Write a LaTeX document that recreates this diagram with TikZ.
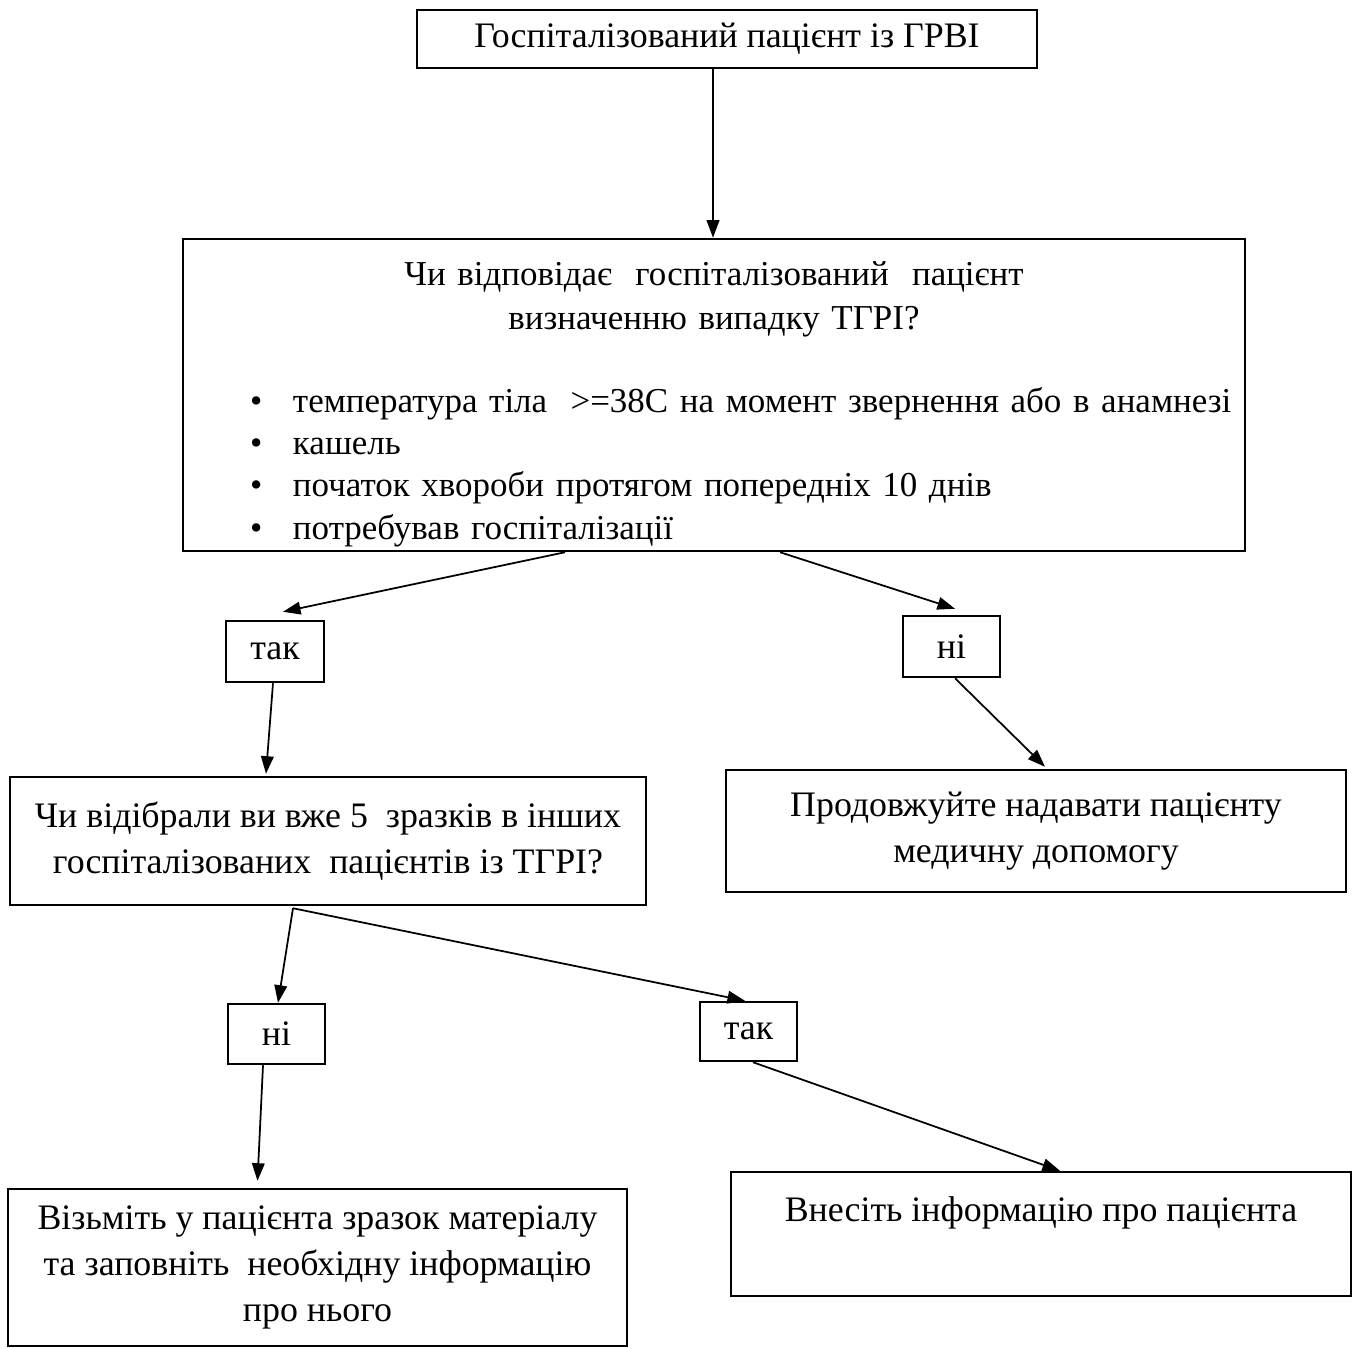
\documentclass[tikz,border=0pt]{standalone}
\usepackage{fontspec}
\setmainfont{Liberation Serif}
\usetikzlibrary{arrows.meta}
\newcommand{\bul}{\makebox[1.1cm][l]{\hspace{0.67cm}•}}

\begin{document}
\begin{tikzpicture}[
    box/.style={draw=black, line width=0.7pt, inner sep=0pt, align=center,
                font=\fontsize{10.2}{13}\selectfont},
    arr/.style={black, line width=0.5pt, -{Triangle[length=5pt,width=3.6pt]}}]
				    		\useasboundingbox (0, 0) rectangle (13.54, -13.48);
				    		\node[box, minimum width=6.20cm, minimum height=0.58cm] (patient) at (7.27, -0.39) {Госпіталізований пацієнт із ГРВІ};
				    		\node[box, minimum width=10.62cm, minimum height=3.12cm, text width=10.62cm, align=left, font=\fontsize{9.95}{12}\selectfont] (definition) at (7.14, -3.95) {{\centering \rule{0pt}{12pt}Чи відповідає\ \ госпіталізований\ \ пацієнт\\[0.5pt] визначенню випадку ТГРІ?\par}
				    			\vspace{11.6pt}\raggedright
				    			\mbox{\bul температура тіла\ \ >=38C на момент звернення або в анамнезі}\\
				    			\mbox{\bul кашель}\\
				    			\mbox{\bul початок хвороби протягом попередніх 10 днів}\\
				    			\mbox{\bul потребував госпіталізації}};
				    		\node[box, minimum width=0.98cm, minimum height=0.61cm] (yesA) at (2.75, -6.515) {так};
				    		\node[box, minimum width=0.97cm, minimum height=0.61cm] (noA) at (9.515, -6.465) {ні};
				    		\node[box, minimum width=6.36cm, minimum height=1.28cm] (samples) at (3.28, -8.41) {Чи відібрали ви вже 5\ \ зразків в інших\\ госпіталізованих\ \ пацієнтів із ТГРІ?};
				    		\node[box, minimum width=6.20cm, minimum height=1.22cm] (care) at (10.36, -8.31) {Продовжуйте надавати пацієнту\\ медичну допомогу};
				    		\node[box, minimum width=0.97cm, minimum height=0.60cm] (noB) at (2.765, -10.34) {ні};
				    		\node[box, minimum width=0.97cm, minimum height=0.59cm] (yesB) at (7.485, -10.315) {так};
				    		\node[box, minimum width=6.19cm, minimum height=1.57cm] (take) at (3.175, -12.675) {Візьміть у пацієнта зразок матеріалу\\ та заповніть\ \ необхідну інформацію\\ про нього};
				    		\node[box, minimum width=6.20cm, minimum height=1.24cm] (record) at (10.41, -12.34) {Внесіть інформацію про пацієнта\\[1pt] \mbox{}};
				    		\draw[arr] ([xshift=-0.14cm]patient.south) -- ([xshift=-0.01cm]definition.north);
				    		\draw[arr] ([xshift=-1.49cm]definition.south) -- ([xshift=0.08cm, yshift=0.08cm]yesA.north);
				    		\draw[arr] ([xshift=0.66cm]definition.south) -- ([xshift=0.035cm, yshift=0.06cm]noA.north);
				    		\draw[arr] ([xshift=-0.02cm]yesA.south) -- ([xshift=-0.62cm, yshift=0.02cm]samples.north);
				    		\draw[arr] ([xshift=0.035cm]noA.south) -- ([xshift=0.09cm, yshift=0.02cm]care.north);
				    		\draw[arr] ([xshift=-0.35cm, yshift=-0.02cm]samples.south) -- ([xshift=0.015cm]noB.north);
				    		\draw[arr] ([xshift=-0.35cm, yshift=-0.02cm]samples.south) -- ([xshift=-0.035cm]yesB.north);
				    		\draw[arr] ([xshift=-0.135cm]noB.south) -- ([xshift=-0.6cm, yshift=0.07cm]take.north);
				    		\draw[arr] ([xshift=0.045cm]yesB.south) -- ([xshift=0.19cm]record.north);
				    	\end{tikzpicture}
\end{document}
